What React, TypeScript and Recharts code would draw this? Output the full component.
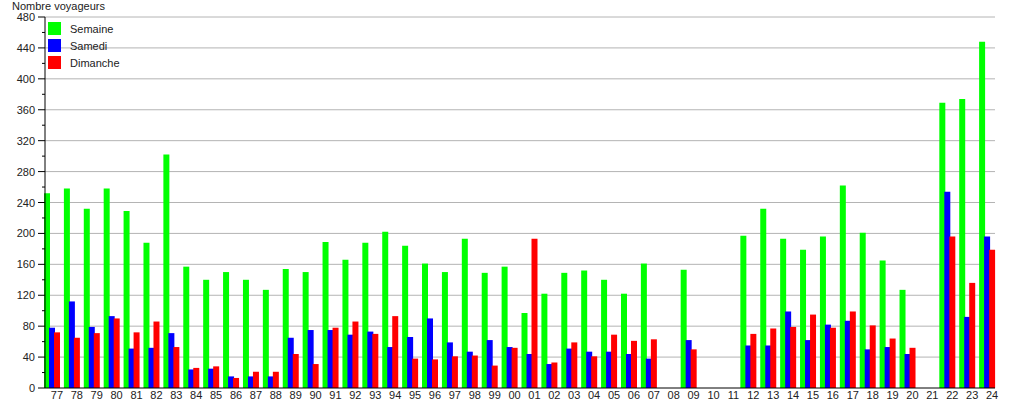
import { Bar, BarChart, CartesianGrid, XAxis, YAxis } from 'recharts';

const years = [
  '77', '78', '79', '80', '81', '82', '83', '84', '85', '86', '87', '88',
  '89', '90', '91', '92', '93', '94', '95', '96', '97', '98', '99', '00',
  '01', '02', '03', '04', '05', '06', '07', '08', '09', '10', '11', '12',
  '13', '14', '15', '16', '17', '18', '19', '20', '21', '22', '23', '24',
];

const semaine = [
  252, 258, 232, 258, 229, 188, 302, 157, 140, 150, 140, 127,
  154, 150, 189, 166, 188, 202, 184, 161, 150, 193, 149, 157,
  97, 122, 149, 152, 140, 122, 161, null, 153, null, null, 197,
  232, 193, 179, 196, 262, 201, 165, 127, null, 369, 374, 448,
];

const samedi = [
  78, 112, 79, 93, 51, 52, 71, 24, 25, 15, 15, 15,
  65, 75, 75, 69, 73, 53, 66, 90, 59, 47, 62, 53,
  44, 31, 51, 47, 47, 44, 38, null, 62, null, null, 55,
  55, 99, 62, 82, 87, 50, 53, 44, null, 254, 92, 196,
];

const dimanche = [
  72, 65, 71, 90, 72, 86, 53, 26, 28, 13, 21, 21,
  44, 31, 78, 86, 70, 93, 38, 37, 41, 42, 29, 52,
  193, 33, 59, 41, 69, 61, 63, null, 50, null, null, 70,
  77, 79, 95, 78, 99, 81, 64, 52, null, 196, 136, 179,
];

const yTicks = [
  0, 20, 40, 60, 80, 100, 120, 140, 160, 180, 200, 220, 240,
  260, 280, 300, 320, 340, 360, 380, 400, 420, 440, 460, 480,
];
const gridValues = [40, 80, 120, 160, 200, 240, 280, 320, 360, 400, 440, 480];

const series = [
  { key: 'semaine', name: 'Semaine', color: '#00ff00' },
  { key: 'samedi', name: 'Samedi', color: '#0000ff' },
  { key: 'dimanche', name: 'Dimanche', color: '#ff0000' },
];

const data = years.map((year, i) => ({
  year,
  semaine: semaine[i],
  samedi: samedi[i],
  dimanche: dimanche[i],
}));

const FONT = '"Liberation Sans", Arial, sans-serif';

function YTick({ x, y, payload }: any) {
  const major = payload.value % 40 === 0;
  return (
    <g>
      <line x1={x - (major ? 7 : 3)} x2={x} y1={y} y2={y} stroke='#000' />
      {major && (
        <text x={x - 10} y={y} dy={4} textAnchor='end' fontSize={11} fill='#222' fontFamily={FONT}>
          {payload.value}
        </text>
      )}
    </g>
  );
}

function XTick({ x, y, payload }: any) {
  return (
    <text x={x + 5} y={y + 11} textAnchor='middle' fontSize={11} fill='#222' fontFamily={FONT}>
      {payload.value}
    </text>
  );
}

export default function App() {
  return (
    <div style={{ position: 'absolute', left: 0, top: 0, width: 1015, height: 400, fontFamily: FONT, background: '#fff' }}>
      <div style={{ position: 'absolute', left: 12, top: 0, fontSize: 11, lineHeight: '13px', color: '#222' }}>
        Nombre voyageurs
      </div>
      <BarChart
        width={1015}
        height={400}
        data={data}
        margin={{ top: 17, right: 20, bottom: 0, left: 0 }}
        barSize={6}
        barGap={-1}
      >
        <CartesianGrid vertical={false} horizontalValues={gridValues} stroke='#b4b4b4' />
        <XAxis
          dataKey='year'
          interval={0}
          height={12}
          tickLine={false}
          tickSize={0}
          tickMargin={0}
          axisLine={{ stroke: '#000' }}
          padding={{ left: -3, right: -2 }}
          tick={<XTick />}
        />
        <YAxis
          domain={[0, 480]}
          ticks={yTicks}
          interval={0}
          width={45}
          tickLine={false}
          tickSize={0}
          tickMargin={0}
          axisLine={{ stroke: '#000' }}
          tick={<YTick />}
        />
        {series.map(s => (
          <Bar key={s.key} dataKey={s.key} fill={s.color} isAnimationActive={false} />
        ))}
      </BarChart>
      <div style={{ position: 'absolute', left: 48, top: 22 }}>
        {series.map(s => (
          <div key={s.key} style={{ display: 'flex', alignItems: 'center', height: 13, marginBottom: 4 }}>
            <span style={{ width: 13, height: 13, background: s.color, display: 'inline-block' }} />
            <span style={{ marginLeft: 9, fontSize: 11, color: '#222' }}>{s.name}</span>
          </div>
        ))}
      </div>
    </div>
  );
}
